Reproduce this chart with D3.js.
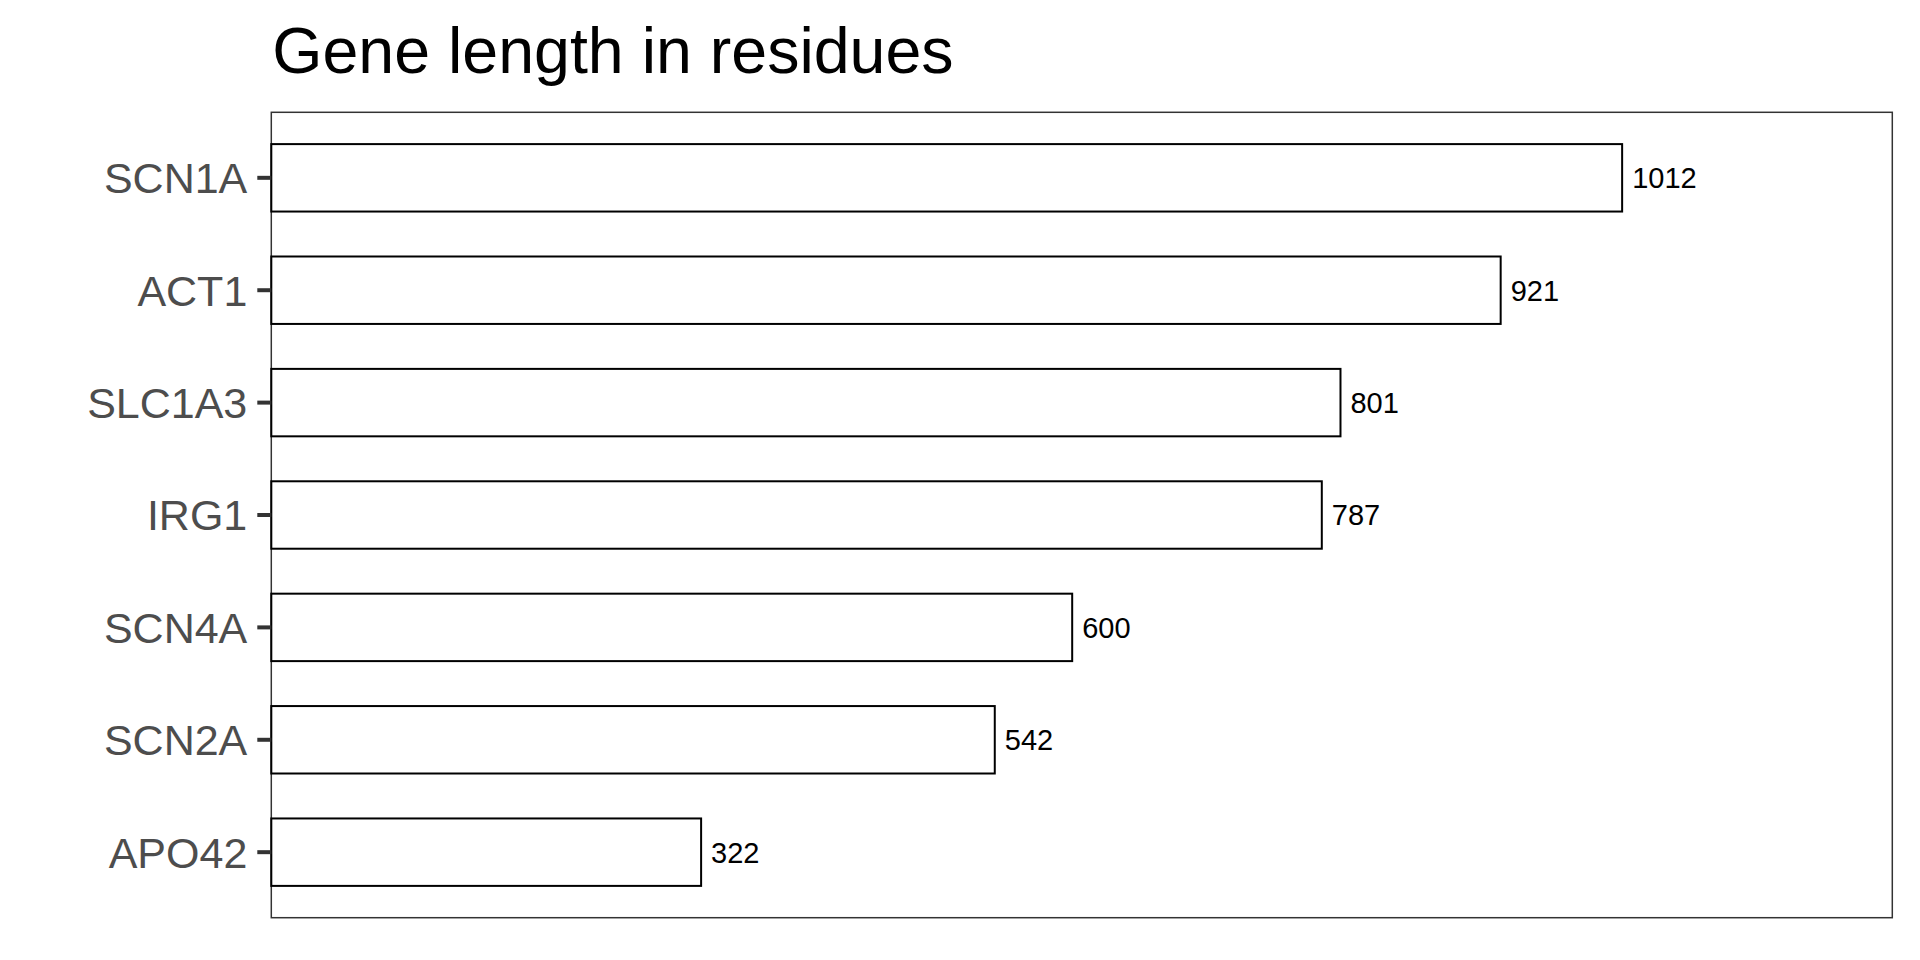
<!DOCTYPE html>
<html>
<head>
<meta charset="utf-8">
<script src="https://cdn.jsdelivr.net/npm/d3@7"></script>
<style>
  body { margin: 0; background: #fff; }
  svg { display: block; font-family: "Liberation Sans", Arial, sans-serif; }
</style>
</head>
<body>
<svg></svg>
<script>
var genes = ['SCN1A', 'ACT1', 'SLC1A3', 'IRG1', 'SCN4A', 'SCN2A', 'APO42'];
var lengths = [1012, 921, 801, 787, 600, 542, 322];
var title = 'Gene length in residues';

var width = 1920;
var height = 960;
// panel edges (note: "top" is reserved on window, so use p_ names)
var p_left = 271.3, p_right = 1892.3, p_top = 112.3, p_bottom = 917.7;

var svg = d3.select('svg')
    .attr('width', width)
    .attr('height', height);

var xScale = d3.scaleLinear()
    .domain([0, d3.max(lengths) * 1.2])
    .range([p_left, p_right]);

var yScale = d3.scaleBand()
    .domain(genes)
    .range([p_top, p_bottom])
    .paddingInner(0.4)
    .paddingOuter(0.283);

var data = genes.map((g, i) => ({ name: g, value: lengths[i] }));

// panel border
svg.append('rect')
    .attr('x', p_left)
    .attr('y', p_top)
    .attr('width', p_right - p_left)
    .attr('height', p_bottom - p_top)
    .attr('fill', 'none')
    .attr('stroke', '#333333')
    .attr('stroke-width', 1.5);

// bars
svg.selectAll('rect.bar')
    .data(data)
    .enter().append('rect')
    .attr('class', 'bar')
    .attr('x', xScale(0))
    .attr('y', d => yScale(d.name))
    .attr('width', d => xScale(d.value) - xScale(0))
    .attr('height', yScale.bandwidth())
    .attr('fill', '#ffffff')
    .attr('stroke', '#000000')
    .attr('stroke-width', 2);

// value labels
svg.selectAll('text.value')
    .data(data)
    .enter().append('text')
    .attr('class', 'value')
    .attr('x', d => xScale(d.value) + 10)
    .attr('y', d => yScale(d.name) + yScale.bandwidth() / 2)
    .attr('dy', '0.36em')
    .attr('font-size', 29)
    .attr('fill', '#000000')
    .text(d => d.value);

// y axis
var yAxis = d3.axisLeft(yScale).tickSize(14).tickPadding(10);
var gy = svg.append('g')
    .attr('transform', `translate(${p_left},0)`)
    .call(yAxis);
gy.select('.domain').remove();
gy.selectAll('.tick line')
    .attr('stroke', '#333333')
    .attr('stroke-width', 4);
gy.selectAll('.tick text')
    .attr('font-size', 43)
    .attr('font-family', '"Liberation Sans", Arial, sans-serif')
    .attr('fill', '#4d4d4d')
    .attr('dy', '0.36em');

// title
svg.append('text')
    .attr('x', p_left + 1)
    .attr('y', 73)
    .attr('font-size', 64.5)
    .attr('fill', '#000000')
    .text(title);
</script>
</body>
</html>
